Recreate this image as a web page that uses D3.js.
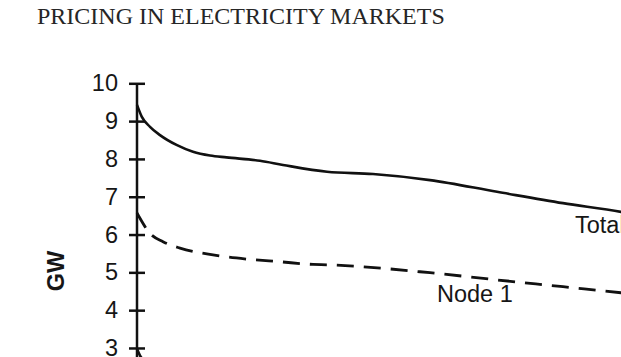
<!DOCTYPE html>
<html>
<head>
<meta charset="utf-8">
<script src="https://cdn.jsdelivr.net/npm/d3@7"></script>
<style>
  body { margin: 0; background: #fff; }
  svg { display: block; }
</style>
</head>
<body>
<div id="chart"></div>
<script>
// share of the period (%)
var totalX = [0, 0.94, 2.6, 4.6, 7.9, 11.2, 14.6, 17.9, 24.6, 29.2, 38, 47.2, 58.6, 72, 85.2, 96.8, 100];
var totalGW = [9.43, 9.12, 8.85, 8.63, 8.37, 8.19, 8.09, 8.04, 7.95, 7.84, 7.66, 7.6, 7.44, 7.13, 6.83, 6.6, 6.52];
var node1X = [0, 0.3, 2.6, 5.2, 8.6, 15.2, 22, 28.6, 35.2, 38, 58.6, 72, 85.2, 96.8, 100];
var node1GW = [6.57, 6.5, 6.03, 5.81, 5.64, 5.46, 5.35, 5.28, 5.21, 5.2, 4.99, 4.8, 4.62, 4.46, 4.42];
var node2X = [0, 0.6, 2, 4];
var node2GW = [2.98, 2.8, 2.62, 2.5];
var yTicks = [3, 4, 5, 6, 7, 8, 9, 10];

var sans = "'Liberation Sans', Arial, sans-serif";

var svg = d3.select("#chart")
    .append("svg")
    .attr("width", 621)
    .attr("height", 357);

svg.append("text")
    .attr("x", 37)
    .attr("y", 24)
    .style("font-family", "'Liberation Serif', 'Times New Roman', serif")
    .style("font-size", "24px")
    .style("fill", "#262626")
    .text("PRICING IN ELECTRICITY MARKETS");

var x = d3.scaleLinear().domain([0, 100]).range([137, 637]);
var y = d3.scaleLinear().domain([0, 10]).range([461.4, 83.3]);

var yAxis = svg.append("g")
    .attr("transform", "translate(137, 0)")
    .call(d3.axisLeft(y).tickValues(yTicks).tickSize(8).tickSizeOuter(0).tickPadding(11));

yAxis.select(".domain")
    .attr("d", `M0,${y(10)}V${y(0)}`)
    .style("stroke", "#111")
    .style("stroke-width", 2.5);

yAxis.selectAll(".tick line")
    .attr("x1", 8)
    .attr("x2", -8)
    .style("stroke", "#111")
    .style("stroke-width", 2.5);

yAxis.selectAll(".tick text")
    .style("font-family", sans)
    .style("font-size", "23.5px")
    .style("fill", "#161616");

svg.append("text")
    .attr("transform", "translate(64, 271) rotate(-90)")
    .attr("text-anchor", "middle")
    .style("font-family", sans)
    .style("font-size", "23.5px")
    .style("font-weight", "bold")
    .style("fill", "#161616")
    .text("GW");

var line = d3.line()
    .x(function(d) { return x(d[0]); })
    .y(function(d) { return y(d[1]); })
    .curve(d3.curveMonotoneX);

svg.append("path")
    .datum(d3.zip(totalX, totalGW))
    .attr("d", line)
    .style("fill", "none")
    .style("stroke", "#111")
    .style("stroke-width", 2.6);

svg.append("path")
    .datum(d3.zip(node1X, node1GW))
    .attr("d", line)
    .style("fill", "none")
    .style("stroke", "#111")
    .style("stroke-width", 2.8)
    .style("stroke-dasharray", "17,10");

svg.append("path")
    .datum(d3.zip(node2X, node2GW))
    .attr("d", line)
    .style("fill", "none")
    .style("stroke", "#111")
    .style("stroke-width", 2.6);

svg.append("text")
    .attr("x", x(87.6))
    .attr("y", y(6.04))
    .style("font-family", sans)
    .style("font-size", "23.5px")
    .style("fill", "#161616")
    .text("Total");

svg.append("text")
    .attr("x", x(60))
    .attr("y", y(4.22))
    .style("font-family", sans)
    .style("font-size", "23.5px")
    .style("fill", "#161616")
    .text("Node 1");
</script>
</body>
</html>
